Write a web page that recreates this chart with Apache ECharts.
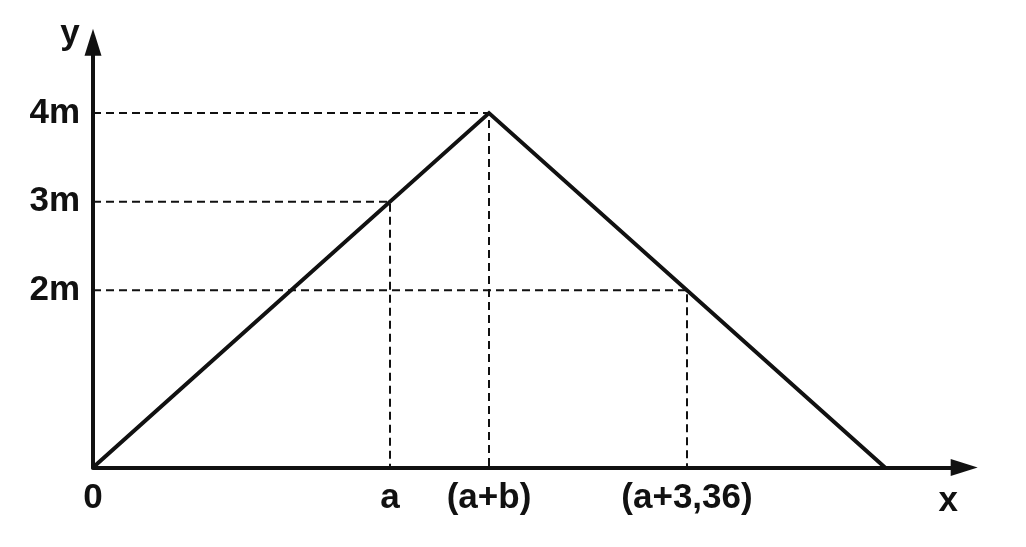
<!DOCTYPE html>
<html>
<head>
<meta charset="utf-8">
<script src="https://cdn.jsdelivr.net/npm/echarts@6/dist/echarts.min.js"></script>
<style>
html,body{margin:0;padding:0;background:#fff;}
#c{width:1026px;height:547px;}
</style>
</head>
<body>
<div id="c"></div>
<script>
// Data
const xTickValues = [0, 3, 4, 6];
const xTickLabels = ['0', 'a', '(a+b)', '(a+3,36)'];
const yTickValues = [2, 3, 4];
const yTickLabels = ['2m', '3m', '4m'];
const lineX = [0, 4, 8];
const lineY = [0, 4, 0];
const guideX = [3, 4, 6];
const guideY = [3, 4, 2];
const xMax = 8.8;
const yMax = 4.8;

const font = 'Liberation Sans, Arial, sans-serif';
const labelStyle = {fontFamily: font, fontWeight: 'bold', fontSize: 35, color: '#111'};

const guideSeries = guideX.map((gx, i) => ({
  type: 'line',
  data: [[0, guideY[i]], [gx, guideY[i]], [gx, 0]],
  symbol: 'none',
  silent: true,
  z: 1,
  lineStyle: {color: '#111', width: 2, type: [8, 5]}
}));

const chart = echarts.init(document.getElementById('c'), null, {renderer: 'canvas'});
chart.setOption({
  backgroundColor: '#fff',
  animation: false,
  grid: {left: 93, right: 61.8, top: 42.2, bottom: 79.5},
  xAxis: {
    type: 'value', min: 0, max: xMax,
    name: 'x', nameLocation: 'end', nameGap: -16,
    nameTextStyle: Object.assign({}, labelStyle, {align: 'center', verticalAlign: 'top', padding: [16, 0, 0, 0]}),
    axisLine: {show: true, onZero: false, symbol: ['none', 'triangle'], symbolSize: [17, 27], lineStyle: {color: '#111', width: 4}},
    axisTick: {show: false},
    splitLine: {show: false},
    axisLabel: Object.assign({}, labelStyle, {
      customValues: xTickValues, margin: 13,
      formatter: v => xTickLabels[xTickValues.indexOf(v)]
    })
  },
  yAxis: {
    type: 'value', min: 0, max: yMax,
    name: 'y', nameLocation: 'end', nameGap: 8,
    nameTextStyle: Object.assign({}, labelStyle, {align: 'center', verticalAlign: 'middle', padding: [0, 46, 0, 0]}),
    axisLine: {show: true, onZero: false, symbol: ['none', 'triangle'], symbolSize: [17, 27], lineStyle: {color: '#111', width: 4}},
    axisTick: {show: false},
    splitLine: {show: false},
    axisLabel: Object.assign({}, labelStyle, {
      customValues: yTickValues, margin: 13,
      formatter: v => yTickLabels[yTickValues.indexOf(v)]
    })
  },
  series: guideSeries.concat([{
    type: 'line',
    data: lineX.map((x, i) => [x, lineY[i]]),
    symbol: 'none',
    z: 3,
    lineStyle: {color: '#111', width: 4, join: 'miter'}
  }])
});
</script>
</body>
</html>
